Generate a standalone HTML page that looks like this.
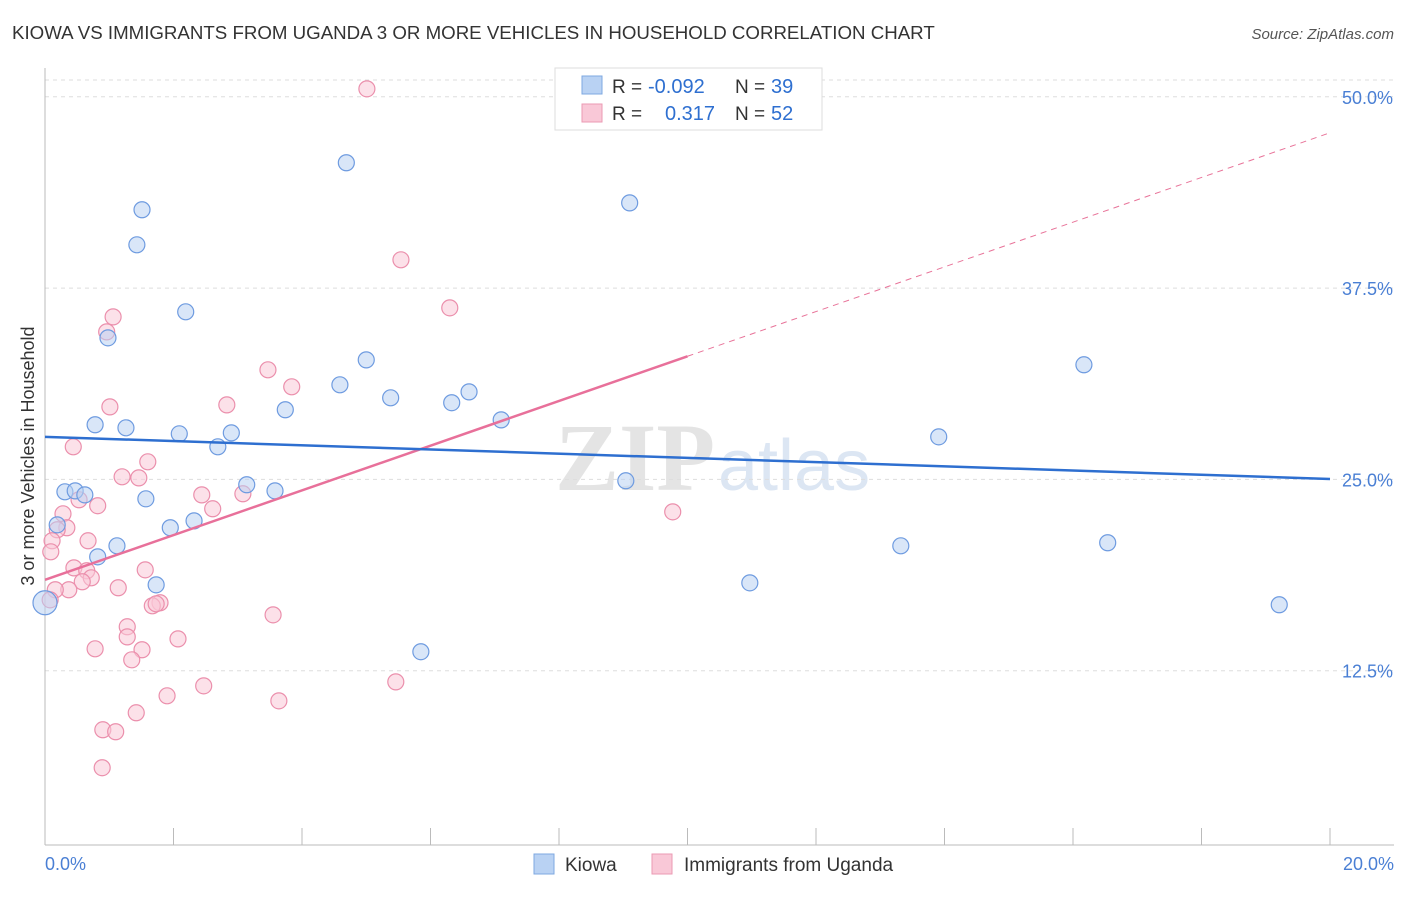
<!DOCTYPE html>
<html><head><meta charset="utf-8"><style>
body{margin:0;background:#fff;font-family:"Liberation Sans",sans-serif}
#c{position:relative;width:1406px;height:892px}
</style></head><body>
<div id="c">
<svg id="s" width="1406" height="892" xmlns="http://www.w3.org/2000/svg">
<text x="12" y="39" font-size="18.7" fill="#333">KIOWA VS IMMIGRANTS FROM UGANDA 3 OR MORE VEHICLES IN HOUSEHOLD CORRELATION CHART</text>
<text x="1394" y="39" font-size="15" fill="#555" text-anchor="end" font-style="italic">Source: ZipAtlas.com</text>
<text x="555" y="490" font-size="96" fill="#e4e4e4" font-family="Liberation Serif" font-weight="bold">ZIP</text>
<text x="718" y="490" font-size="72" fill="#dce6f3">atlas</text>
<g id="grid"></g><g id="marks"></g>
<text transform="translate(34,456) rotate(-90)" font-size="18" fill="#333" text-anchor="middle">3 or more Vehicles in Household</text>
<text x="45" y="870" font-size="18" fill="#4a7fd4">0.0%</text>
<text x="1394" y="870" font-size="18" fill="#4a7fd4" text-anchor="end">20.0%</text>
<g>
<rect x="555" y="68" width="267" height="62" fill="#fff" stroke="#ddd"/>
<rect x="582" y="76" width="20" height="18" fill="#b9d2f3" stroke="#7ea8e0"/>
<rect x="582" y="104" width="20" height="18" fill="#f9c8d7" stroke="#eb9ab3"/>
<text x="612" y="93" font-size="19" fill="#333">R =</text>
<text x="648" y="93" font-size="20" fill="#2e6fd0">-0.092</text>
<text x="735" y="93" font-size="19" fill="#333">N =</text>
<text x="771" y="93" font-size="20" fill="#2e6fd0">39</text>
<text x="612" y="120" font-size="19" fill="#333">R =</text>
<text x="665" y="120" font-size="20" fill="#2e6fd0">0.317</text>
<text x="735" y="120" font-size="19" fill="#333">N =</text>
<text x="771" y="120" font-size="20" fill="#2e6fd0">52</text>
</g>
<g>
<rect x="534" y="854" width="20" height="20" fill="#b9d2f3" stroke="#7ea8e0"/>
<text x="565" y="871" font-size="19" fill="#333">Kiowa</text>
<rect x="652" y="854" width="20" height="20" fill="#f9c8d7" stroke="#eb9ab3"/>
<text x="684" y="871" font-size="19" fill="#333">Immigrants from Uganda</text>
</g>
</svg></div>
<script>
const yTicks=[12.5,25,37.5,50];
const xTickCount=10;
const kiowaX=[1.51,1.43,4.69,9.10,2.19,0.98,5.00,4.59,3.74,5.38,6.60,6.33,7.10,0.78,1.26,2.09,2.90,2.69,0.31,0.47,0.62,1.57,3.14,3.58,2.32,1.95,0.19,1.12,0.82,1.73,0.0,5.85,9.04,16.17,13.91,13.32,16.54,10.97,19.21];
const kiowaY=[42.62,40.33,45.69,43.07,35.95,34.25,32.81,31.18,29.55,30.33,30.72,30.01,28.89,28.57,28.37,27.98,28.04,27.13,24.19,24.25,23.99,23.73,24.65,24.25,22.29,21.84,22.03,20.66,19.94,18.11,16.94,13.74,24.91,32.49,27.78,20.66,20.86,18.24,16.81];
const ugX=[5.01,5.54,6.30,1.06,0.96,3.47,3.84,2.83,1.01,0.44,1.60,1.20,1.46,2.44,3.08,0.53,0.82,2.61,0.28,0.34,0.19,0.67,0.11,0.09,1.56,0.45,0.65,0.72,0.58,0.37,0.16,1.14,1.79,1.67,1.73,3.55,1.28,1.28,2.07,1.51,0.78,1.35,2.47,1.90,5.46,3.64,1.42,0.90,1.10,0.89,9.77,0.08];
const ugY=[50.52,39.35,36.21,35.62,34.64,32.16,31.05,29.87,29.74,27.13,26.15,25.17,25.10,23.99,24.06,23.67,23.28,23.08,22.75,21.84,21.71,20.99,20.99,20.27,19.09,19.22,19.03,18.57,18.31,17.79,17.79,17.92,16.94,16.74,16.87,16.15,15.37,14.71,14.58,13.87,13.93,13.21,11.51,10.86,11.77,10.53,9.75,8.64,8.51,6.16,22.88,17.13];
const kiowaTrend=[27.78,25.03];
const ugTrend=[18.44,47.65]; const ugSolidEnd=10.0;
const X=v=>45+v/20*1285, Y=v=>862-v/12.5*191.3;
const NS="http://www.w3.org/2000/svg";
function mk(t,a,p){const e=document.createElementNS(NS,t);for(const k in a)e.setAttribute(k,a[k]);p.appendChild(e);return e;}
const g=document.getElementById('grid'),m=document.getElementById('marks');
mk('line',{x1:45,y1:80,x2:1394,y2:80,stroke:'#ddd','stroke-dasharray':'4,4'},g);
yTicks.forEach(t=>{
const l=mk('line',{x1:45,y1:Y(t),x2:1394,y2:Y(t),stroke:'#ddd','stroke-dasharray':'4,4'},g);


const tx=mk('text',{x:1393,y:Y(t)+7,'font-size':18,fill:'#4a7fd4','text-anchor':'end'},g);
tx.textContent=t.toFixed(1)+'%';


});
mk('line',{x1:45,y1:68,x2:45,y2:845,stroke:'#bbb'},g);
mk('line',{x1:45,y1:845,x2:1394,y2:845,stroke:'#bbb'},g);
for(let i=0;i<=xTickCount;i++){const x=X(i*20/xTickCount);
const t=mk('line',{x1:x,y1:828,x2:x,y2:845,stroke:'#bbb'},g);

}
function pts(xs,ys,fill,stroke,name){xs.forEach((x,i)=>{
const r=(x===0)?12:8;
const c=mk('circle',{cx:X(x),cy:Y(ys[i]),r:r,fill:fill,'fill-opacity':0.55,stroke:stroke,'stroke-width':1.2},m);

});}
pts(ugX,ugY,'#f9c8d7','#eb8fac','uganda-point');
pts(kiowaX,kiowaY,'#b9d2f3','#6e9be0','kiowa-point');
const uy=x=>ugTrend[0]+(ugTrend[1]-ugTrend[0])*x/20;
let l=mk('line',{x1:X(ugSolidEnd),y1:Y(uy(ugSolidEnd)),x2:X(20),y2:Y(uy(20)),stroke:'#e87399','stroke-width':1,'stroke-dasharray':'6,5'},m);


l=mk('line',{x1:X(0),y1:Y(uy(0)),x2:X(ugSolidEnd),y2:Y(uy(ugSolidEnd)),stroke:'#e8709a','stroke-width':2.5},m);


l=mk('line',{x1:X(0),y1:Y(kiowaTrend[0]),x2:X(20),y2:Y(kiowaTrend[1]),stroke:'#2e6fd0','stroke-width':2.5},m);


</script>
</body></html>
